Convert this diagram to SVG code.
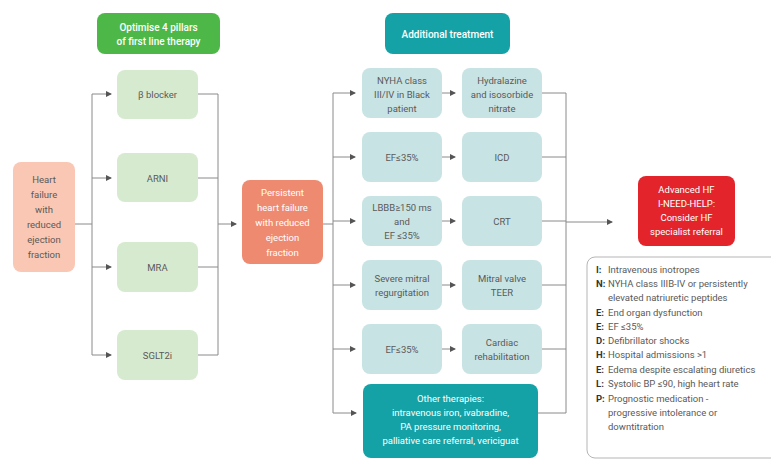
<svg xmlns="http://www.w3.org/2000/svg" width="771" height="461" viewBox="0 0 771 461">
<defs>
<marker id="ah" viewBox="0 0 6 6" refX="5" refY="3" markerWidth="6" markerHeight="6" orient="auto" markerUnits="userSpaceOnUse">
<path d="M0,0 L6,3 L0,6 z" fill="#555"/>
</marker>
<style>
text{font-family:Roboto,"Liberation Sans",sans-serif;font-size:9.5px;text-anchor:middle;dominant-baseline:central;fill:#5a5a5a}
.w{fill:#fff}
.b{font-weight:bold}
.hdr{fill:#fff;font-weight:500;font-size:10px}
.ln{stroke:#8a8a8a;stroke-width:1;fill:none}
.ar{stroke:#8a8a8a;stroke-width:1;fill:none;marker-end:url(#ah)}
.gh{fill:#4db848}
.gb{fill:#d6ead0}
.pe{fill:#f9c7b3}
.sa{fill:#ee8a70}
.th{fill:#14a2a7}
.lt{fill:#c8e3e4}
.rd{fill:#e3242b}
.lg{text-anchor:start;font-size:9.5px}
.lk{text-anchor:start;font-size:9.5px;font-weight:bold;fill:#333}
</style>
</defs>
<rect width="771" height="461" fill="#fff"/>

<g id="connectors">
<path class="ln" d="M75,224 H92 M92,94 V355"/>
<path class="ar" d="M92,94 H111"/>
<path class="ar" d="M92,178 H111"/>
<path class="ar" d="M92,267 H111"/>
<path class="ar" d="M92,355 H111"/>
<path class="ln" d="M198,94 H218 M198,178 H218 M198,267 H218 M198,355 H218 M218,94 V355"/>
<path class="ar" d="M218,224 H236"/>
<path class="ln" d="M323,224 H333 M333,93 V413"/>
<path class="ar" d="M333,93 H355"/>
<path class="ar" d="M333,157 H355"/>
<path class="ar" d="M333,221 H355"/>
<path class="ar" d="M333,285 H355"/>
<path class="ar" d="M333,349 H355"/>
<path class="ar" d="M333,413 H356"/>
<path class="ar" d="M442,93 H455"/>
<path class="ar" d="M442,157 H455"/>
<path class="ar" d="M442,221 H455"/>
<path class="ar" d="M442,285 H455"/>
<path class="ar" d="M442,349 H455"/>
<path class="ln" d="M542,93 H566 M542,157 H566 M542,221 H566 M542,285 H566 M542,349 H566 M538,413 H566 M566,93 V413"/>
<path class="ar" d="M566,222 H612"/>
</g>

<g id="hf">
<rect class="pe" x="13" y="162" width="62" height="110" rx="8"/>
<text x="44" y="179">Heart</text>
<text x="44" y="194">failure</text>
<text x="44" y="209">with</text>
<text x="44" y="224">reduced</text>
<text x="44" y="239">ejection</text>
<text x="44" y="254">fraction</text>
</g>

<g id="pillars-header">
<rect class="gh" x="97" y="13" width="123" height="41" rx="8"/>
<text class="hdr" x="158.5" y="27">Optimise 4 pillars</text>
<text class="hdr" x="158.5" y="41">of first line therapy</text>
</g>

<g id="bblocker">
<rect class="gb" x="117" y="70" width="81" height="49" rx="8"/>
<text x="157.5" y="94">β blocker</text>
</g>
<g id="arni">
<rect class="gb" x="117" y="153" width="81" height="49" rx="8"/>
<text x="157.5" y="178">ARNI</text>
</g>
<g id="mra">
<rect class="gb" x="117" y="242" width="81" height="50" rx="8"/>
<text x="157.5" y="267">MRA</text>
</g>
<g id="sglt2i">
<rect class="gb" x="117" y="330" width="81" height="50" rx="8"/>
<text x="157.5" y="355">SGLT2i</text>
</g>

<g id="persistent">
<rect class="sa" x="242" y="180" width="81" height="84" rx="8"/>
<text class="w" x="282.5" y="192">Persistent</text>
<text class="w" x="282.5" y="207">heart failure</text>
<text class="w" x="282.5" y="222">with reduced</text>
<text class="w" x="282.5" y="237">ejection</text>
<text class="w" x="282.5" y="252">fraction</text>
</g>

<g id="additional-header">
<rect class="th" x="385" y="13" width="125" height="41" rx="8"/>
<text class="hdr" x="447.5" y="34">Additional treatment</text>
</g>

<g id="nyha">
<rect class="lt" x="362" y="68" width="80" height="50" rx="8"/>
<text x="402" y="80">NYHA class</text>
<text x="402" y="94">III/IV in Black</text>
<text x="402" y="108">patient</text>
</g>
<g id="hydralazine">
<rect class="lt" x="462" y="68" width="80" height="50" rx="8"/>
<text x="502" y="80">Hydralazine</text>
<text x="502" y="94">and isosorbide</text>
<text x="502" y="108">nitrate</text>
</g>
<g id="ef1">
<rect class="lt" x="362" y="132" width="80" height="50" rx="8"/>
<text x="402" y="157">EF≤35%</text>
</g>
<g id="icd">
<rect class="lt" x="462" y="132" width="80" height="50" rx="8"/>
<text x="502" y="157">ICD</text>
</g>
<g id="lbbb">
<rect class="lt" x="362" y="196" width="80" height="50" rx="8"/>
<text x="402" y="207">LBBB≥150 ms</text>
<text x="402" y="221">and</text>
<text x="402" y="235">EF ≤35%</text>
</g>
<g id="crt">
<rect class="lt" x="462" y="196" width="80" height="50" rx="8"/>
<text x="502" y="221">CRT</text>
</g>
<g id="mitral">
<rect class="lt" x="362" y="260" width="80" height="50" rx="8"/>
<text x="402" y="278">Severe mitral</text>
<text x="402" y="292">regurgitation</text>
</g>
<g id="teer">
<rect class="lt" x="462" y="260" width="80" height="50" rx="8"/>
<text x="502" y="278">Mitral valve</text>
<text x="502" y="292">TEER</text>
</g>
<g id="ef2">
<rect class="lt" x="362" y="324" width="80" height="50" rx="8"/>
<text x="402" y="349">EF≤35%</text>
</g>
<g id="rehab">
<rect class="lt" x="462" y="324" width="80" height="50" rx="8"/>
<text x="502" y="342">Cardiac</text>
<text x="502" y="356">rehabilitation</text>
</g>
<g id="other">
<rect class="th" x="363" y="384" width="175" height="74" rx="8"/>
<text class="w" x="450.5" y="398">Other therapies:</text>
<text class="w" x="450.5" y="412">intravenous iron, ivabradine,</text>
<text class="w" x="450.5" y="426">PA pressure monitoring,</text>
<text class="w" x="450.5" y="440">palliative care referral, vericiguat</text>
</g>

<g id="advanced">
<rect class="rd" x="638" y="176" width="97" height="70" rx="8"/>
<text class="w" x="686.5" y="189">Advanced HF</text>
<text class="w" x="686.5" y="203">I-NEED-HELP:</text>
<text class="w" x="686.5" y="217">Consider HF</text>
<text class="w" x="686.5" y="231">specialist referral</text>
</g>

<g id="legend">
<rect x="587" y="257" width="200" height="201" rx="8" fill="#fff" stroke="#b5b5b5" stroke-width="1"/>
<text class="lk" x="596" y="269">I:</text><text class="lg" x="608" y="269">Intravenous inotropes</text>
<text class="lk" x="596" y="283">N:</text><text class="lg" x="608" y="283">NYHA class IIIB-IV or persistently</text>
<text class="lg" x="608" y="297">elevated natriuretic peptides</text>
<text class="lk" x="596" y="312">E:</text><text class="lg" x="608" y="312">End organ dysfunction</text>
<text class="lk" x="596" y="326">E:</text><text class="lg" x="608" y="326">EF ≤35%</text>
<text class="lk" x="596" y="340">D:</text><text class="lg" x="608" y="340">Defibrillator shocks</text>
<text class="lk" x="596" y="354">H:</text><text class="lg" x="608" y="354">Hospital admissions &gt;1</text>
<text class="lk" x="596" y="369">E:</text><text class="lg" x="608" y="369">Edema despite escalating diuretics</text>
<text class="lk" x="596" y="383">L:</text><text class="lg" x="608" y="383">Systolic BP ≤90, high heart rate</text>
<text class="lk" x="596" y="398">P:</text><text class="lg" x="608" y="398">Prognostic medication -</text>
<text class="lg" x="608" y="412">progressive intolerance or</text>
<text class="lg" x="608" y="426">downtitration</text>
</g>
</svg>
